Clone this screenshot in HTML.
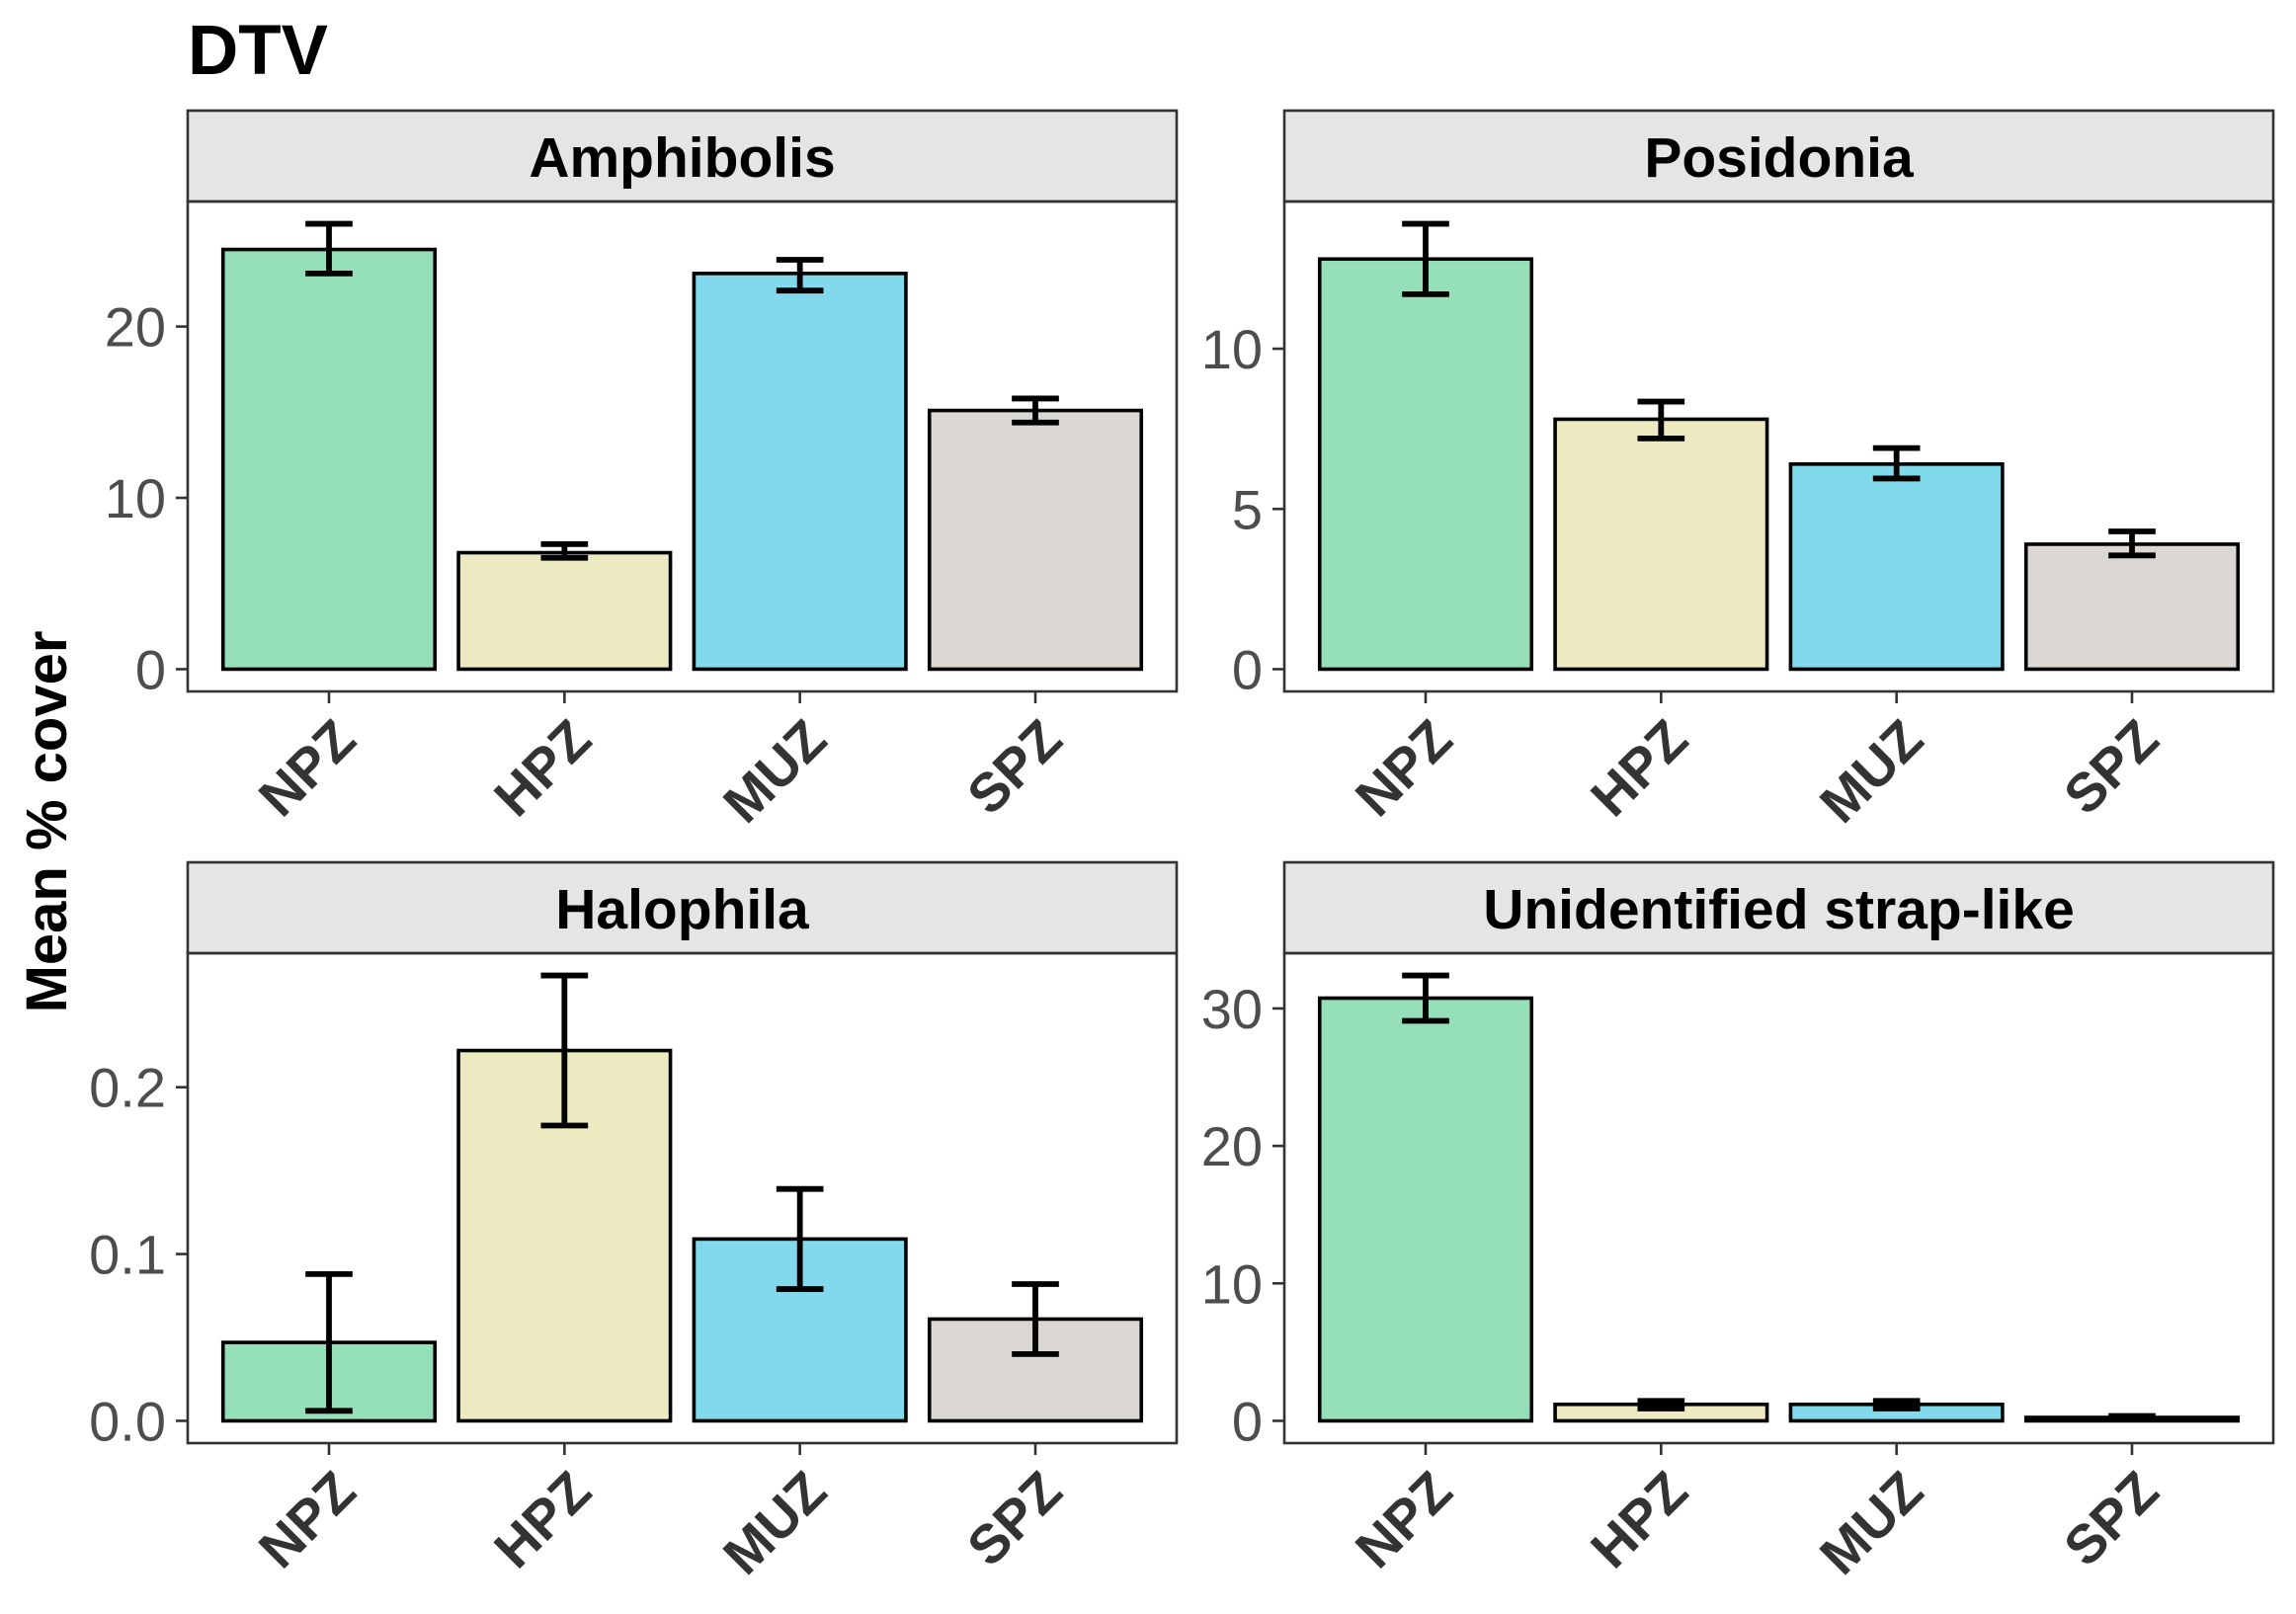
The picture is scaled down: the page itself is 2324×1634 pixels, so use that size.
<!DOCTYPE html>
<html><head><meta charset="utf-8"><style>
html,body{margin:0;padding:0;background:#fff;}
svg{display:block;font-family:"Liberation Sans",Arial,sans-serif;}
</style></head><body>
<svg id="chart" width="2324" height="1634" viewBox="0 0 2324 1634" xmlns="http://www.w3.org/2000/svg">
<text x="190" y="75" font-size="71" font-weight="bold" fill="#000">DTV</text>
<text transform="translate(67,832) rotate(-90)" text-anchor="middle" font-size="58" font-weight="bold" fill="#000">Mean % cover</text>
<g id="panels"></g>
</svg>
<script>
const categories = ["NPZ","HPZ","MUZ","SPZ"];
const panelTitles = ["Amphibolis","Posidonia","Halophila","Unidentified strap-like"];
const amphibolisMean = [24.5, 6.8, 23.1, 15.1];
const amphibolisLow  = [23.1, 6.5, 22.1, 14.4];
const amphibolisHigh = [26.0, 7.3, 23.9, 15.8];
const posidoniaMean = [12.8, 7.8, 6.4, 3.9];
const posidoniaLow  = [11.7, 7.2, 5.95, 3.55];
const posidoniaHigh = [13.9, 8.35, 6.9, 4.3];
const halophilaMean = [0.047, 0.222, 0.109, 0.061];
const halophilaLow  = [0.006, 0.177, 0.079, 0.040];
const halophilaHigh = [0.088, 0.267, 0.139, 0.082];
const strapMean = [30.75, 1.2, 1.2, 0.25];
const strapLow  = [29.1, 0.9, 0.9, 0.15];
const strapHigh = [32.4, 1.45, 1.45, 0.35];
const amphibolisTicks = [0, 10, 20];
const posidoniaTicks = [0, 5, 10];
const halophilaTicks = [0, 0.1, 0.2];
const strapTicks = [0, 10, 20, 30];
const halophilaTickLabels = ["0.0","0.1","0.2"];

const colors = ["#95e0b8","#ede9c0","#82d9ec","#dbd8d3"];
const NS = "http://www.w3.org/2000/svg";
const root = document.getElementById("panels");
function mk(tag, attrs, parent){const e=document.createElementNS(NS,tag);for(const k in attrs)e.setAttribute(k,attrs[k]);(parent||root).appendChild(e);return e;}

const panels = [
  {title:panelTitles[0], mean:amphibolisMean, lo:amphibolisLow, hi:amphibolisHigh, ticks:amphibolisTicks, labels:null, x:190, y:112, key:"amphibolis"},
  {title:panelTitles[1], mean:posidoniaMean, lo:posidoniaLow, hi:posidoniaHigh, ticks:posidoniaTicks, labels:null, x:1300, y:112, key:"posidonia"},
  {title:panelTitles[2], mean:halophilaMean, lo:halophilaLow, hi:halophilaHigh, ticks:halophilaTicks, labels:halophilaTickLabels, x:190, y:873, key:"halophila"},
  {title:panelTitles[3], mean:strapMean, lo:strapLow, hi:strapHigh, ticks:strapTicks, labels:null, x:1300, y:873, key:"strap-like"}
];
const W = 1001, stripH = 92, plotH = 496;

panels.forEach(p=>{
  const g = mk("g",{});
  
  
  const top = p.y + stripH, bottom = top + plotH;
  const M = Math.max(...p.hi, ...p.mean);
  const dMin = -0.05*M, dMax = 1.05*M;
  const yS = v => bottom - (v - dMin)/(dMax - dMin)*plotH;
  const step = W/4.2;
  const xS = i => p.x + (0.6 + i)*step;
  const strip = mk("rect",{x:p.x,y:p.y,width:W,height:stripH,fill:"#e5e5e5",stroke:"#333","stroke-width":2.6},g);
  
  
  const st = mk("text",{x:p.x+W/2,y:p.y+stripH/2+21,"text-anchor":"middle","font-size":57,"font-weight":"bold",fill:"#000"},g);
  st.textContent = p.title;
  
  
  p.mean.forEach((v,i)=>{
    const bw = 0.9*step;
    const r = mk("rect",{x:xS(i)-bw/2,y:yS(v),width:bw,height:yS(0)-yS(v),fill:colors[i],stroke:"#000","stroke-width":3.6},g);
    
    
  });
  p.mean.forEach((v,i)=>{
    const cx = xS(i), hw = 0.1*step;
    const eg = mk("g",{stroke:"#000","stroke-width":5.8,fill:"none"},g);
    
    
    mk("line",{x1:cx,x2:cx,y1:yS(p.hi[i]),y2:yS(p.lo[i])},eg);
    mk("line",{x1:cx-hw,x2:cx+hw,y1:yS(p.hi[i]),y2:yS(p.hi[i])},eg);
    mk("line",{x1:cx-hw,x2:cx+hw,y1:yS(p.lo[i]),y2:yS(p.lo[i])},eg);
  });
  const border = mk("rect",{x:p.x,y:top,width:W,height:plotH,fill:"none",stroke:"#333","stroke-width":2.6},g);
  
  
  p.ticks.forEach((t,k)=>{
    const yy = yS(t);
    mk("line",{x1:p.x-12,x2:p.x,y1:yy,y2:yy,stroke:"#333","stroke-width":2.6},g);
    const lt = mk("text",{x:p.x-22,y:yy+20,"text-anchor":"end","font-size":56,fill:"#4d4d4d"},g);
    lt.textContent = p.labels ? p.labels[k] : String(t);
    
    
  });
  categories.forEach((c,i)=>{
    const cx = xS(i);
    mk("line",{x1:cx,x2:cx,y1:bottom,y2:bottom+12,stroke:"#333","stroke-width":2.6},g);
    const xt = mk("text",{transform:`translate(${cx+30},${bottom+52}) rotate(-45)`,"text-anchor":"end","font-size":55,"font-weight":"bold",fill:"#333"},g);
    xt.textContent = c;
    
    
  });
});
</script>
</body></html>
